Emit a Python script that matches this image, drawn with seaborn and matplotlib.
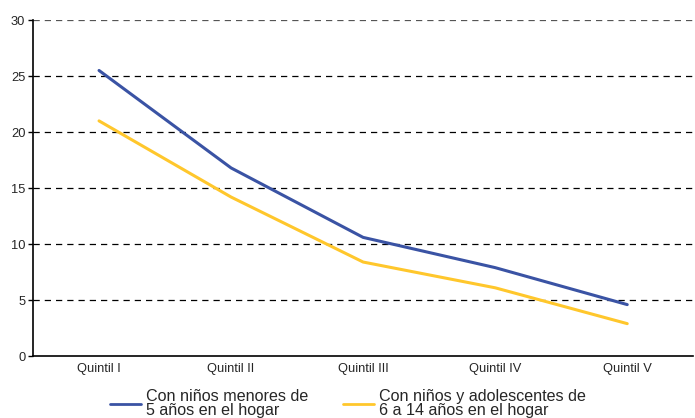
import matplotlib
matplotlib.use("Agg")
import matplotlib.pyplot as plt
import numpy as np
import pandas as pd
import seaborn as sns

quintiles = ["Quintil I", "Quintil II", "Quintil III", "Quintil IV", "Quintil V"]
menores_5 = [25.5, 16.8, 10.6, 7.9, 4.6]
de_6_a_14 = [21.0, 14.2, 8.4, 6.1, 2.9]
series_labels = ["Con niños menores de\n5 años en el hogar",
                 "Con niños y adolescentes de\n6 a 14 años en el hogar"]

df = pd.DataFrame({
    "pos": list(range(len(quintiles))) * 2,
    "valor": menores_5 + de_6_a_14,
    "serie": [series_labels[0]] * len(quintiles) + [series_labels[1]] * len(quintiles),
})

sns.set_style("white")
plt.rcParams["font.family"] = ["Liberation Sans", "DejaVu Sans"]

fig = plt.figure(figsize=(6.95, 4.18), dpi=100)
ax = fig.add_axes([0.0475, 0.148, 0.95, 0.804])

sns.lineplot(data=df, x="pos", y="valor", hue="serie",
             palette=["#3A53A4", "#FFC72C"], linewidth=2.2, ax=ax, legend=True)

ax.set_xlim(-0.5, len(quintiles) - 0.5)
ax.set_ylim(0, 30)
ax.set_yticks(np.arange(0, 31, 5))
for y in range(5, 31, 5):
    ax.axhline(y, color="#555555" if y == 30 else "black", lw=0.9,
               ls=(0, (5, 4)), zorder=0)

# category labels in the middle, ticks at the borders
ax.set_xticks(np.arange(-0.5, len(quintiles), 1.0))
ax.set_xticklabels([])
ax.set_xticks(range(len(quintiles)), minor=True)
ax.set_xticklabels(quintiles, minor=True)
ax.tick_params(axis="x", which="major", direction="out", length=3.5, width=1, color="black")
ax.tick_params(axis="x", which="minor", length=0, labelsize=9.3, pad=5)
ax.tick_params(axis="y", direction="out", length=3.5, width=1, color="black",
               labelsize=9.3, left=True, pad=2)

ax.set_xlabel("")
ax.set_ylabel("")
for s in ["top", "right"]:
    ax.spines[s].set_visible(False)
for s in ["left", "bottom"]:
    ax.spines[s].set_color("black")
    ax.spines[s].set_linewidth(1.2)

ax.legend(loc="upper left", bbox_to_anchor=(0.095, -0.055), ncol=2, frameon=False,
          fontsize=11.6, handlelength=1.9, handletextpad=0.3, columnspacing=2.2,
          labelspacing=0.2)
leg = ax.get_legend()
for t in leg.get_texts():
    t.set_linespacing(0.9)
for h in leg.get_lines():
    h.set_linewidth(2.0)

fig.savefig("out.png", dpi=100)
